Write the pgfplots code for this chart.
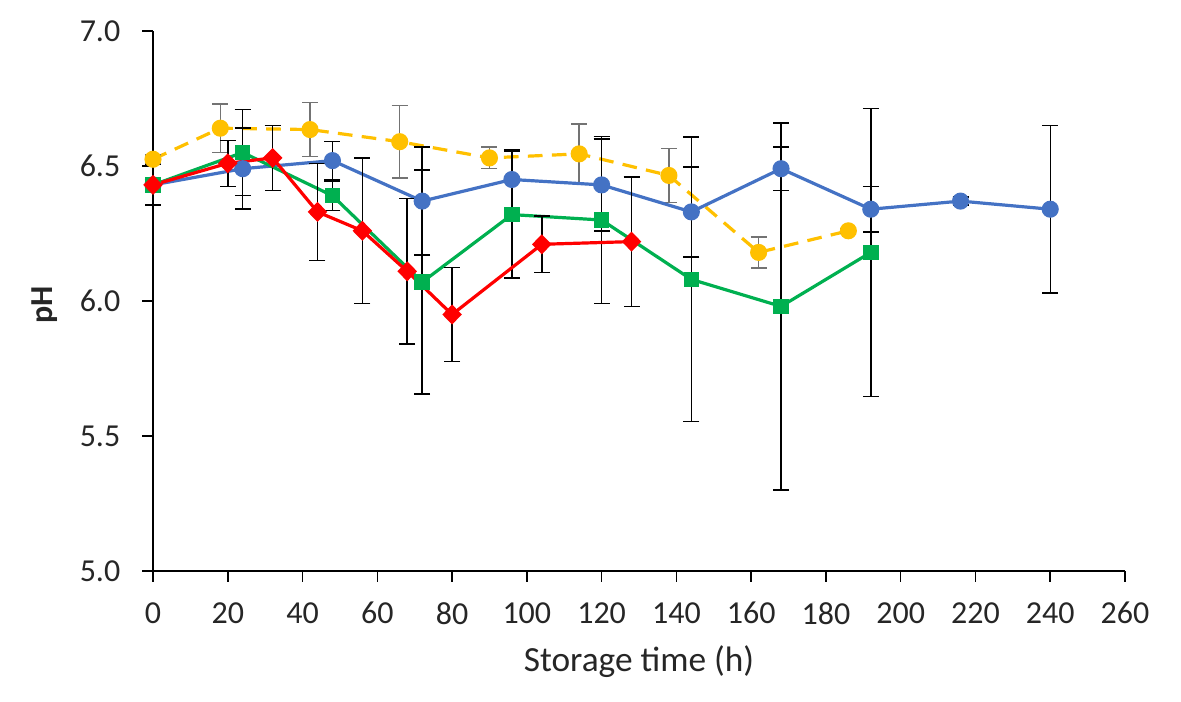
\documentclass[border=0pt]{standalone}
\usepackage{pgfplots}
\pgfplotsset{compat=1.18}
\usepackage{fontspec}
\setmainfont{Carlito}
\definecolor{cblue}{HTML}{4472C4}
\definecolor{cgreen}{HTML}{00B050}
\definecolor{cred}{HTML}{FF0000}
\definecolor{cyellow}{HTML}{FFC000}
\definecolor{txt}{HTML}{262626}
\begin{document}
\begin{tikzpicture}
\path[use as bounding box] (-114.75pt,-97.5pt) rectangle (771pt,428.25pt);
\begin{axis}[
  at={(0,0)}, anchor=south west,
  scale only axis, width=729pt, height=405pt,
  xmin=0, xmax=260, ymin=5, ymax=7,
  axis x line*=bottom, axis y line*=left,
  axis line style={line width=1.2pt, black},
  xtick={0,20,...,260}, ytick={5,5.5,6,6.5,7},
  tick align=outside, major tick length=8pt,
  tick style={line width=1.2pt, black},
  yticklabel style={/pgf/number format/fixed, /pgf/number format/precision=1, /pgf/number format/fixed zerofill},
  /pgf/number format/assume math mode=true,
  ticklabel style={font=\fontsize{24}{28}\selectfont, text=txt},
  xticklabel style={yshift=-12pt},
  yticklabel style={xshift=-13pt},
  xlabel={Storage time (h)},
  ylabel={\textbf{pH}},
  label style={font=\fontsize{26.5}{30}\selectfont, text=txt},
  xlabel style={at={(axis description cs:0.5,0)}, anchor=center, yshift=-68pt},
  ylabel style={at={(axis description cs:0,0.5)}, anchor=center, yshift=81pt, xshift=-3pt, font=\fontsize{24}{28}\selectfont},
  clip=false,
]
% yellow
\addplot[cyellow, line width=2.4pt, dash pattern=on 11pt off 7pt,
  mark=*, mark size=5.2pt, mark options={solid, fill=cyellow, draw=cyellow},
  error bars/.cd, y dir=both, y explicit,
  error bar style={line width=1.1pt, solid, color=black!55},
  error mark options={rotate=90, mark size=6pt, line width=1.1pt, color=black!55}]
  table[x=x, y=y, y error=e] {
x y e
0 6.525 0.015
18 6.64 0.09
42 6.635 0.10
66 6.59 0.135
90 6.53 0.04
114 6.545 0.11
138 6.465 0.10
162 6.18 0.057
186 6.26 0.008
};
% blue
\addplot[cblue, line width=2.4pt,
  mark=*, mark size=5.2pt, mark options={fill=cblue, draw=cblue},
  error bars/.cd, y dir=both, y explicit,
  error bar style={line width=1.1pt, black},
  error mark options={rotate=90, mark size=6pt, line width=1.1pt, black}]
  table[x=x, y=y, y error=e] {
x y e
0 6.43 0.075
24 6.49 0.15
48 6.52 0.07
72 6.37 0.20
96 6.45 0.11
120 6.43 0.17
144 6.33 0.167
168 6.49 0.08
192 6.34 0.085
216 6.37 0.015
240 6.34 0.31
};
% green
\addplot[cgreen, line width=2.4pt,
  mark=square*, mark size=4.6pt, mark options={fill=cgreen, draw=cgreen},
  error bars/.cd, y dir=both, y explicit,
  error bar style={line width=1.1pt, black},
  error mark options={rotate=90, mark size=6pt, line width=1.1pt, black}]
  table[x=x, y=y, y error=e] {
x y e
0 6.43 0.02
24 6.55 0.16
48 6.39 0.055
72 6.07 0.415
96 6.32 0.235
120 6.30 0.31
144 6.08 0.527
168 5.98 0.68
192 6.18 0.533
};
% red
\addplot[cred, line width=2.4pt,
  mark=diamond*, mark size=5.8pt, mark options={fill=cred, draw=cred, xscale=1.3},
  error bars/.cd, y dir=both, y explicit,
  error bar style={line width=1.1pt, black},
  error mark options={rotate=90, mark size=6pt, line width=1.1pt, black}]
  table[x=x, y=y, y error=e] {
x y e
0 6.43 0.02
20 6.51 0.085
32 6.53 0.12
44 6.33 0.18
56 6.26 0.27
68 6.11 0.27
80 5.95 0.175
104 6.21 0.105
128 6.22 0.24
};
\end{axis}
\end{tikzpicture}
\end{document}
